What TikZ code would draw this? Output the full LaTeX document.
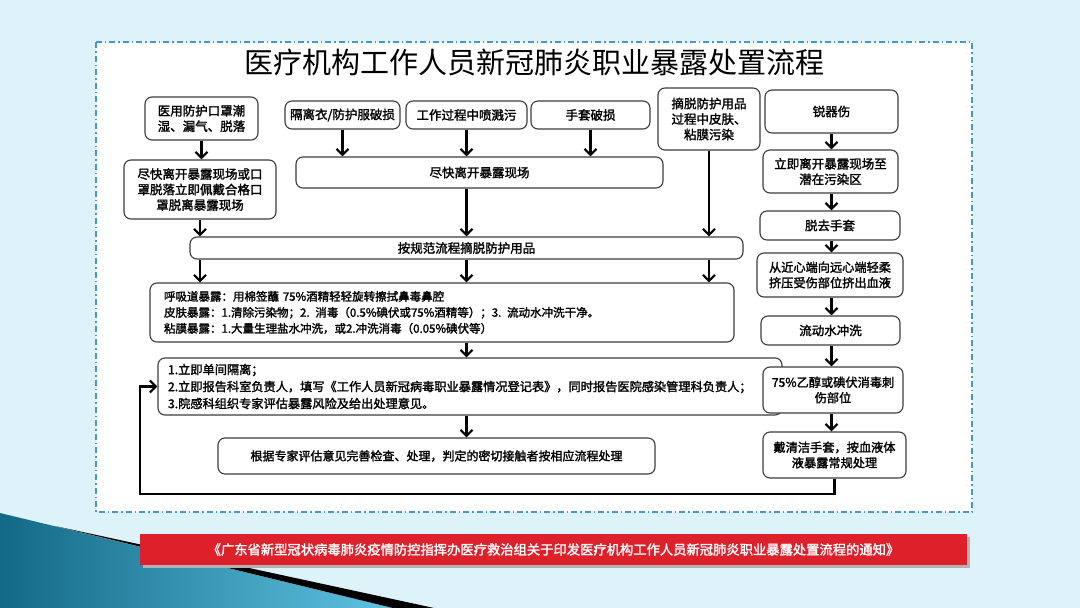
\documentclass[tikz,border=0pt]{standalone}
\usepackage{fontspec}
\setmainfont{Noto Sans CJK SC}[AutoFakeBold=1.8]
\usetikzlibrary{positioning,arrows.meta,calc}
\definecolor{slidebg}{RGB}{221,243,249}
\definecolor{paneledge}{RGB}{70,150,210}
\definecolor{boxgray}{RGB}{60,60,60}
\definecolor{bannerred}{RGB}{222,32,42}
\definecolor{tealdark}{RGB}{18,105,135}
\definecolor{teallight}{RGB}{95,195,225}

\begin{document}
\begin{tikzpicture}[x=1pt,y=-1pt,
    stepbox/.style={draw=boxgray,line width=1.1pt,fill=white,rounded corners=7pt,
                    align=center,inner sep=2pt,
                    font=\fontsize{12.5}{15.5}\selectfont\bfseries},
    listbox/.style={stepbox,align=left},
    flow/.style={line width=2.2pt,-{Straight Barb[length=6pt,width=12pt]}}]
  \fill[slidebg] (0,0) rectangle (1080,608);
  \shade[left color=tealdark,right color=teallight] (0,513) -- (393,608) -- (0,608) -- cycle;
  \fill[black] (55,526) -- (434,608) -- (393,608) -- cycle;
  \draw[paneledge,fill=white,line width=1.3pt,dash pattern=on 6pt off 3pt on 1.5pt off 3pt]
    (96,42) rectangle (972,512);

  \node[font=\fontsize{29}{30}\selectfont] (title) at (534,62)
    {医疗机构工作人员新冠肺炎职业暴露处置流程};

  \node[stepbox,minimum width=113pt,minimum height=43pt] (mask) at (201.5,118.5)
    {医用防护口罩潮\\湿、漏气、脱落};
  \node[stepbox,minimum width=152pt,minimum height=59pt] (maskleave) at (200,189.5)
    {尽快离开暴露现场或口\\罩脱落立即佩戴合格口\\罩脱离暴露现场};
  \node[stepbox,minimum width=115pt,minimum height=28pt] (gown) at (342.5,115)
    {隔离衣/防护服破损};
  \node[stepbox,minimum width=121pt,minimum height=28pt] (splash) at (466.5,115)
    {工作过程中喷溅污};
  \node[stepbox,minimum width=119pt,minimum height=28pt] (glove) at (590.5,115)
    {手套破损};
  \node[stepbox,minimum width=102pt,minimum height=62pt] (skin) at (709,119)
    {摘脱防护用品\\过程中皮肤、\\粘膜污染};
  \node[stepbox,minimum width=367pt,minimum height=31pt] (leave) at (479.5,172.5)
    {尽快离开暴露现场};
  \node[stepbox,minimum width=553pt,minimum height=22pt] (doff) at (466.5,248)
    {按规范流程摘脱防护用品};
  \node[listbox,text width=556pt,inner xsep=14pt,minimum height=59pt,
        font=\fontsize{11.5}{16}\selectfont\bfseries] (treat) at (442,312.5)
    {呼吸道暴露：用棉签蘸 75\%酒精轻轻旋转擦拭鼻毒鼻腔\\
     皮肤暴露：1.清除污染物；2. 消毒（0.5\%碘伏或75\%酒精等）；3. 流动水冲洗干净。\\
     粘膜暴露：1.大量生理盐水冲洗，或2.冲洗消毒（0.05\%碘伏等）};
  \node[listbox,text width=604pt,inner xsep=10pt,minimum height=57pt,
        font=\fontsize{12.2}{17}\selectfont\bfseries] (report) at (470,386.5)
    {1.立即单间隔离；\\
     2.立即报告科室负责人，填写《工作人员新冠病毒职业暴露情况登记表》，同时报告医院感染管理科负责人；\\
     3.院感科组织专家评估暴露风险及给出处理意见。};
  \node[stepbox,minimum width=437pt,minimum height=36pt,
        font=\fontsize{12}{15}\selectfont\bfseries] (follow) at (436.5,456)
    {根据专家评估意见完善检查、处理，判定的密切接触者按相应流程处理};

  \node[stepbox,minimum width=133pt,minimum height=43pt] (sharp) at (831.5,111.5)
    {锐器伤};
  \node[stepbox,minimum width=135pt,minimum height=43pt] (zone) at (830.5,171.5)
    {立即离开暴露现场至\\潜在污染区};
  \node[stepbox,minimum width=140pt,minimum height=29pt] (glovesoff) at (830,225.5)
    {脱去手套};
  \node[stepbox,minimum width=146pt,minimum height=44pt,
        font=\fontsize{12.2}{15.5}\selectfont\bfseries] (squeeze) at (830,275)
    {从近心端向远心端轻柔\\挤压受伤部位挤出血液};
  \node[stepbox,minimum width=139pt,minimum height=29pt] (rinse) at (830.5,330.5)
    {流动水冲洗};
  \node[stepbox,minimum width=140pt,minimum height=46pt,
        font=\fontsize{12.2}{15.5}\selectfont\bfseries] (disinfect) at (833,390)
    {75\%乙醇或碘伏消毒刺\\伤部位};
  \node[stepbox,minimum width=143pt,minimum height=46pt,
        font=\fontsize{12.2}{15.5}\selectfont\bfseries] (reglove) at (834.5,455)
    {戴清洁手套，按血液体\\液暴露常规处理};

  \fill[black!30] (143,537) rectangle (970,568);
  \node[fill=bannerred,text=white,minimum width=827pt,minimum height=31pt,inner sep=0pt,
        font=\fontsize{13.3}{14}\selectfont\bfseries] (source) at (553.5,549.5)
    {《广东省新型冠状病毒肺炎疫情防控指挥办医疗救治组关于印发医疗机构工作人员新冠肺炎职业暴露处置流程的通知》};

  \coordinate (loopturn) at (140,494);

  \draw[flow] (mask.south) -- (mask.south |- maskleave.north);
  \draw[flow] (gown.south) -- (gown.south |- leave.north);
  \draw[flow] (splash.south) -- (splash.south |- leave.north);
  \draw[flow] (glove.south) -- (glove.south |- leave.north);
  \draw[flow] (maskleave.south) -- (maskleave.south |- doff.north);
  \draw[flow] (doff.north |- leave.south) -- (doff.north);
  \draw[flow] (skin.south) -- (skin.south |- doff.north);
  \draw[flow] (maskleave.south |- doff.south) -- (maskleave.south |- treat.north);
  \draw[flow] (doff.south) -- (doff.south |- treat.north);
  \draw[flow] (skin.south |- doff.south) -- (skin.south |- treat.north);
  \draw[flow] (doff.south |- treat.south) -- (doff.south |- report.north);
  \draw[flow] (doff.south |- report.south) -- (doff.south |- follow.north);

  \draw[flow] (sharp.south) -- (sharp.south |- zone.north);
  \draw[flow] (sharp.south |- zone.south) -- (sharp.south |- glovesoff.north);
  \draw[flow] (sharp.south |- glovesoff.south) -- (sharp.south |- squeeze.north);
  \draw[flow] (sharp.south |- squeeze.south) -- (sharp.south |- rinse.north);
  \draw[flow] (sharp.south |- rinse.south) -- (sharp.south |- disinfect.north);
  \draw[flow] (sharp.south |- disinfect.south) -- (sharp.south |- reglove.north);
  \draw[flow] (reglove.south) |- (loopturn) |- (report.west);
\end{tikzpicture}
\end{document}
